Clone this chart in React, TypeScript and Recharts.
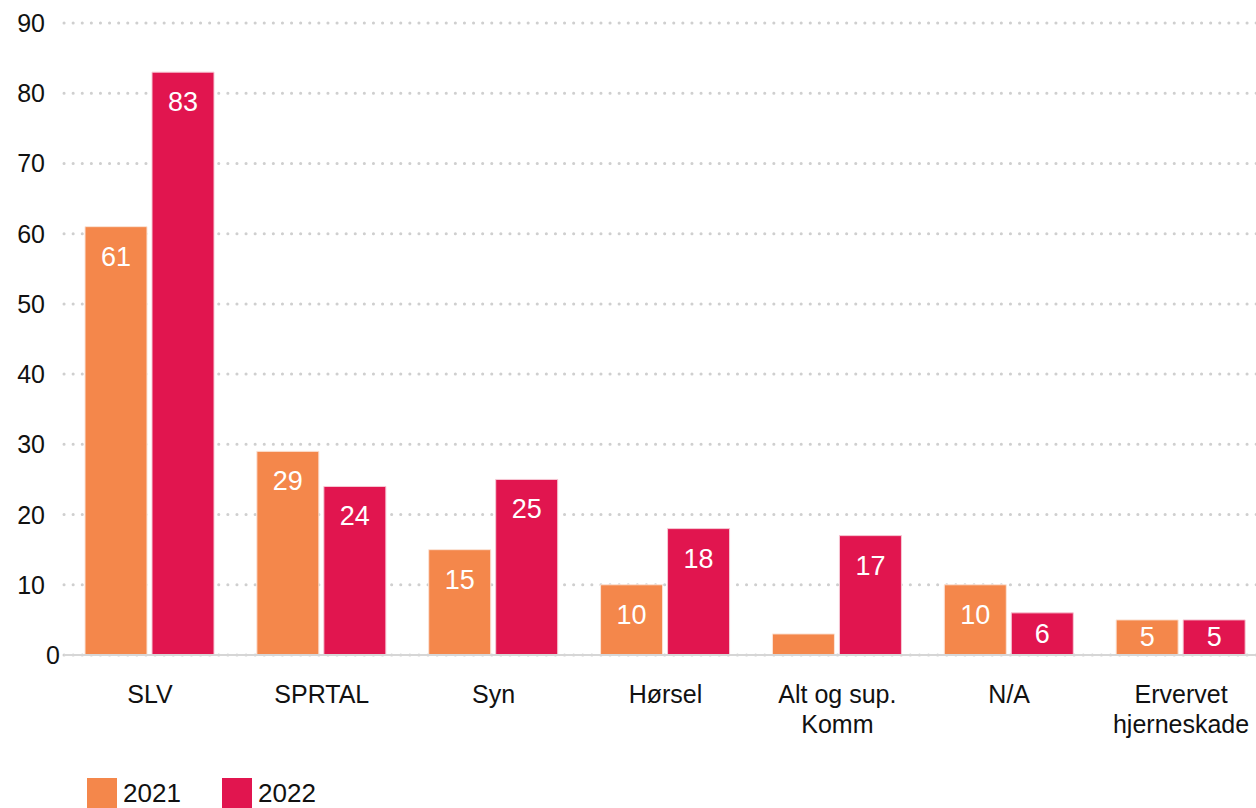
import { Bar, BarChart, CartesianGrid, LabelList, Legend, XAxis, YAxis } from "recharts";

// Antall saker per fagområde, 2021 mot 2022.
const CATEGORIES = ["SLV", "SPRTAL", "Syn", "Hørsel", "Alt og sup.\nKomm", "N/A", "Ervervet\nhjerneskade"];
const Y2021 = [61, 29, 15, 10, 3, 10, 5];
const Y2022 = [83, 24, 25, 18, 17, 6, 5];
const Y_TICKS = [0, 10, 20, 30, 40, 50, 60, 70, 80, 90];

const ORANGE = "#F4874B";
const CRIMSON = "#E1154F";
const FONT = "'Liberation Sans', Arial, Helvetica, sans-serif";

const rows = CATEGORIES.map((name, i) => ({ name, y2021: Y2021[i], y2022: Y2022[i] }));

function YTick({ x, y, payload }: any) {
  const isZero = payload.value === 0;
  return (
    <text x={isZero ? x + 15 : x} y={y} textAnchor="end" dominantBaseline="central" fontSize={25} fill="#111" fontFamily={FONT}>
      {payload.value}
    </text>
  );
}

function XTick({ x, y, payload }: any) {
  const lines = String(payload.value).split("\n");
  return (
    <text x={x} y={y} textAnchor="middle" fontSize={25} fill="#111" fontFamily={FONT}>
      {lines.map((l, i) => (
        <tspan key={i} x={x} dy={i === 0 ? 40 : 30}>
          {l}
        </tspan>
      ))}
    </text>
  );
}

// short bars get the number centred, tall ones keep it near the top
function ValueLabel({ x, y, width, height, value }: any) {
  if (value < 4) return null;
  const dy = Math.min(30, height / 2);
  return (
    <text x={x + width / 2} y={y + dy} textAnchor="middle" dominantBaseline="central" fontSize={27} fill="#fff" fontFamily={FONT}>
      {value}
    </text>
  );
}

function LegendBox() {
  const items = [
    { label: "2021", color: ORANGE },
    { label: "2022", color: CRIMSON },
  ];
  return (
    <div style={{ display: "flex", paddingLeft: 87, height: 40, fontFamily: FONT, fontSize: 26, color: "#111" }}>
      {items.map((it) => (
        <span key={it.label} style={{ display: "flex", alignItems: "flex-start", width: 135 }}>
          <span style={{ width: 30, height: 30, background: it.color, marginRight: 6 }} />
          <span style={{ lineHeight: "36px", marginTop: -3 }}>{it.label}</span>
        </span>
      ))}
    </div>
  );
}

export default function App() {
  return (
    <div style={{ position: "absolute", left: 0, top: 0, width: 1256, height: 808, overflow: "hidden", background: "#fff" }}>
      <BarChart
        width={1275}
        height={808}
        data={rows}
        margin={{ top: 23, right: 8, bottom: 0, left: 0 }}
        barCategoryGap={21}
        barGap={5}
      >
        <CartesianGrid
          vertical={false}
          stroke="#CFCFCF"
          strokeWidth={3}
          strokeDasharray="0.1 9"
          strokeLinecap="round"
        />
        <XAxis
          dataKey="name"
          interval={0}
          tickLine={false}
          axisLine={{ stroke: "#D6D6D6", strokeWidth: 2 }}
          height={113}
          tick={<XTick />}
        />
        <YAxis
          domain={[0, 90]}
          ticks={Y_TICKS}
          width={64}
          tickLine={false}
          axisLine={false}
          tickSize={6}
          tickMargin={13}
          tick={<YTick />}
        />
        <Legend
          verticalAlign="bottom"
          align="left"
          wrapperStyle={{ left: 0, bottom: -10 }}
          content={() => <LegendBox />}
        />
        <Bar dataKey="y2021" fill={ORANGE} stroke="#FBE3D6" strokeWidth={1} isAnimationActive={false}>
          <LabelList dataKey="y2021" content={<ValueLabel />} />
        </Bar>
        <Bar dataKey="y2022" fill={CRIMSON} stroke="#F6C9D5" strokeWidth={1} isAnimationActive={false}>
          <LabelList dataKey="y2022" content={<ValueLabel />} />
        </Bar>
      </BarChart>
    </div>
  );
}
